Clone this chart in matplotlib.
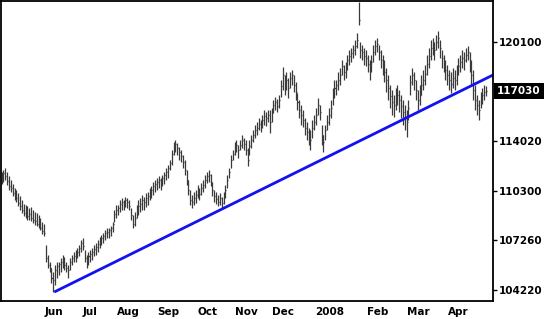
import matplotlib
matplotlib.use("Agg")
import matplotlib.pyplot as plt
from matplotlib.transforms import blended_transform_factory

# daily bars, index 0 = late April 2007, last = April 2008
HIGH = [
    111300, 111420, 111540, 111300, 111060, 110820, 110580, 110340, 110220, 110040,
    109860, 109620, 109380, 109320, 109260, 109140, 109200, 109020, 108900, 108840,
    108720, 108540, 108300, 108180, 106920, 106320, 105900, 105540, 105300, 105720,
    105900, 105900, 106140, 106320, 106200, 105900, 105720, 106140, 106320, 106500,
    106620, 106740, 106920, 107220, 107340, 106620, 106320, 106500, 106620, 106740,
    106920, 107040, 107220, 107400, 107520, 107640, 107820, 107940, 107940, 108060,
    108300, 109020, 109320, 109320, 109620, 109740, 109620, 109800, 109740, 109620,
    109140, 108720, 108900, 109320, 109620, 109740, 109920, 109800, 110040, 110100,
    110340, 110460, 110700, 110820, 110940, 111060, 110940, 111120, 111300, 111540,
    111720, 112020, 112620, 113100, 113220, 113040, 112800, 112620, 112320, 112020,
    111420, 110820, 110220, 109920, 110100, 110220, 110520, 110340, 110640, 110820,
    111120, 111300, 111420, 111180, 110700, 110220, 110100, 109920, 110040, 109800,
    110100, 110520, 111120, 111540, 112320, 112620, 113100, 113220, 112920, 113220,
    113520, 113340, 113220, 112740, 113220, 113520, 113820, 114120, 114300, 114540,
    114420, 114720, 115020, 114900, 115020, 115020, 115140, 115620, 115800, 115680,
    115920, 116820, 117600, 117120, 117300, 116940, 117300, 117420, 117120, 116700,
    116040, 115620, 115320, 115020, 114540, 114300, 113940, 113820, 114420, 114720,
    115140, 115740, 115320, 114120, 113520, 114120, 114720, 115140, 115620, 116340,
    116820, 116820, 117300, 117540, 118020, 117720, 117900, 118320, 118620, 118740,
    118920, 119220, 119640, 121500, 119100, 118920, 118740, 118620, 118320, 118020,
    118320, 118920, 119220, 119340, 118920, 118620, 118320, 118020, 117540, 117120,
    116520, 116220, 115920, 116340, 116520, 116220, 115920, 115620, 115320, 115020,
    115620, 117120, 117540, 117300, 116820, 116220, 116520, 117120, 117420, 117720,
    118320, 118740, 119220, 119340, 119100, 119520, 119760, 119220, 118620, 118320,
    118020, 117720, 117420, 117300, 117540, 117420, 117720, 118140, 118320, 118620,
    118500, 118740, 118860, 118500, 118020, 117420, 116520, 115920, 115620, 116100,
    116340, 116520, 116460,
]
LOW = [
    110580, 110700, 110820, 110520, 110220, 110100, 109860, 109620, 109500, 109260,
    109020, 108840, 108660, 108540, 108420, 108420, 108360, 108240, 108120, 108060,
    107940, 107820, 107580, 107460, 105900, 105540, 105300, 104640, 104100, 104520,
    104940, 105120, 105300, 105540, 105420, 105300, 104940, 105420, 105720, 105900,
    105900, 106140, 106260, 106500, 106620, 105900, 105540, 105720, 105900, 106020,
    106260, 106320, 106500, 106740, 106920, 107040, 107220, 107340, 107340, 107460,
    107700, 108300, 108540, 108720, 108900, 109020, 109020, 109200, 109140, 109020,
    108420, 107940, 108060, 108540, 108720, 108900, 109020, 109020, 109200, 109320,
    109620, 109740, 109920, 110100, 110220, 110340, 110220, 110460, 110580, 110820,
    110940, 111420, 111720, 112320, 112500, 112320, 112020, 111900, 111540, 111120,
    110520, 109920, 109320, 109140, 109320, 109440, 109740, 109620, 109920, 110100,
    110340, 110640, 110700, 110460, 109860, 109500, 109380, 109260, 109320, 109140,
    109380, 109740, 110340, 110940, 111540, 112020, 112320, 112500, 112140, 112620,
    112740, 112620, 112320, 111660, 112320, 112740, 113100, 113340, 113520, 113820,
    113700, 113940, 114120, 114060, 114300, 113640, 114300, 114840, 115020, 114900,
    115140, 115800, 116220, 115920, 116220, 115740, 116340, 116520, 116100, 115620,
    115020, 114540, 114120, 114000, 113520, 113220, 112920, 112620, 113340, 113820,
    114120, 114720, 114420, 112920, 112500, 113220, 113820, 114120, 114540, 115320,
    115740, 115920, 116220, 116520, 117120, 116820, 116940, 117420, 117720, 117900,
    118140, 118320, 118740, 120120, 118140, 118020, 117720, 117660, 117300, 116820,
    117300, 117900, 118320, 118500, 118020, 117540, 117120, 116700, 116100, 115620,
    115140, 114720, 114600, 115020, 115320, 114900, 114540, 114120, 113820, 113400,
    114420, 115920, 116520, 116220, 115620, 115020, 115320, 115920, 116220, 116520,
    117120, 117540, 118020, 118320, 118020, 118620, 118740, 118140, 117540, 117300,
    116820, 116520, 116220, 116040, 116340, 116220, 116520, 117120, 117300, 117540,
    117420, 117900, 118020, 117300, 116520, 115620, 115020, 114720, 114420, 115140,
    115380, 115620, 115860,
]
CLOSE = [
    110940, 111240, 111060, 110760, 110460, 110340, 110040, 109860, 109740, 109440,
    109260, 109020, 108840, 108720, 108660, 108780, 108540, 108420, 108360, 108180,
    108060, 107940, 107760, 107640, 106140, 105720, 105540, 104940, 104820, 105420,
    105660, 105780, 105900, 106140, 105720, 105540, 105420, 105900, 106140, 106260,
    106380, 106500, 106740, 107040, 106860, 106140, 105900, 106260, 106380, 106500,
    106680, 106800, 106980, 107220, 107340, 107460, 107640, 107700, 107820, 107940,
    108180, 108780, 109020, 109140, 109380, 109500, 109320, 109620, 109500, 109260,
    108720, 108180, 108540, 109020, 109260, 109380, 109620, 109500, 109740, 109860,
    110100, 110220, 110460, 110580, 110700, 110820, 110580, 110940, 111120, 111300,
    111540, 111840, 112380, 112860, 112980, 112740, 112500, 112260, 111900, 111420,
    110820, 110220, 109620, 109500, 109740, 109920, 110220, 109980, 110340, 110520,
    110820, 111060, 111120, 110700, 110220, 109860, 109680, 109500, 109740, 109440,
    109860, 110220, 110820, 111300, 112020, 112380, 112800, 112920, 112620, 112920,
    113220, 112980, 112620, 112020, 112860, 113220, 113520, 113820, 113940, 114180,
    114060, 114420, 114660, 114540, 114720, 114300, 114900, 115320, 115500, 115260,
    115620, 116460, 117120, 116520, 116820, 116340, 116940, 117120, 116520, 116100,
    115500, 115020, 114720, 114420, 113940, 113700, 113340, 113220, 113940, 114300,
    114720, 115320, 114900, 113520, 113100, 113820, 114300, 114720, 115140, 115920,
    116340, 116520, 116820, 117120, 117660, 117300, 117540, 118020, 118260, 118440,
    118620, 118860, 119220, 120420, 118620, 118500, 118260, 118140, 117780, 117420,
    117900, 118500, 118860, 118980, 118500, 118020, 117720, 117300, 116820, 116340,
    115860, 115500, 115320, 115740, 115920, 115620, 115260, 114900, 114540, 114300,
    115140, 116700, 117120, 116820, 116220, 115620, 115920, 116520, 116820, 117180,
    117780, 118260, 118740, 118920, 118620, 119100, 119340, 118740, 118140, 117780,
    117420, 117120, 116820, 116580, 116940, 116820, 117180, 117660, 117900, 118140,
    118020, 118320, 118500, 117900, 117120, 116220, 115620, 115320, 115020, 115620,
    115920, 116100, 116160,
]

# trend line anchors (bar index, price)
TREND_X = [28.5, 265.7]
TREND_Y = [104100, 117120]

MONTH_POS = [28.4, 47.8, 68.4, 90.0, 111.1, 132.2, 152.2, 177.6, 203.5, 225.1, 246.8]
MONTH_LABELS = ["Jun", "Jul", "Aug", "Sep", "Oct", "Nov", "Dec", "2008", "Feb", "Mar", "Apr"]

PRICE_TICKS = [104220, 107220, 110180, 113160, 119120]
PRICE_LABELS = ["104220", "107260", "110300", "114020", "120100"]
LAST_LABEL = "117030"

plt.rcParams["font.family"] = "DejaVu Sans"
plt.rcParams["font.weight"] = "bold"

fig = plt.figure(figsize=(5.5, 3.19), dpi=100)
ax = fig.add_axes([1 / 550, 18 / 319, 492 / 550, 300 / 319])

x = list(range(len(CLOSE)))
ax.vlines(x, LOW, HIGH, color="#3a3a3a", linewidth=0.9)
ax.hlines(CLOSE, x, [i + 0.55 for i in x], color="#3a3a3a", linewidth=0.9)

ax.plot(TREND_X, TREND_Y, color="#1212f0", linewidth=2.0, solid_capstyle="butt")

ax.set_xlim(-0.3, 265.7)
ax.set_ylim(103560, 121560)

ax.set_xticks(MONTH_POS, MONTH_LABELS)
ax.tick_params(axis="x", length=0, pad=4, labelsize=7.5)

ax.yaxis.tick_right()
ax.set_yticks(PRICE_TICKS, PRICE_LABELS)
ax.tick_params(axis="y", length=3, width=1, pad=1.5, labelsize=7.5)

for s in ax.spines.values():
    s.set_linewidth(1.3)

trans = blended_transform_factory(ax.transAxes, ax.transData)
ax.annotate(LAST_LABEL, xy=(1, CLOSE[-1]), xycoords=trans,
            xytext=(4, 0), textcoords="offset pixels",
            ha="left", va="center", color="white", fontsize=7.5, fontweight="bold",
            bbox=dict(boxstyle="square,pad=0.3", fc="black", ec="none"),
            annotation_clip=False)

fig.savefig("out.png", dpi=100)
